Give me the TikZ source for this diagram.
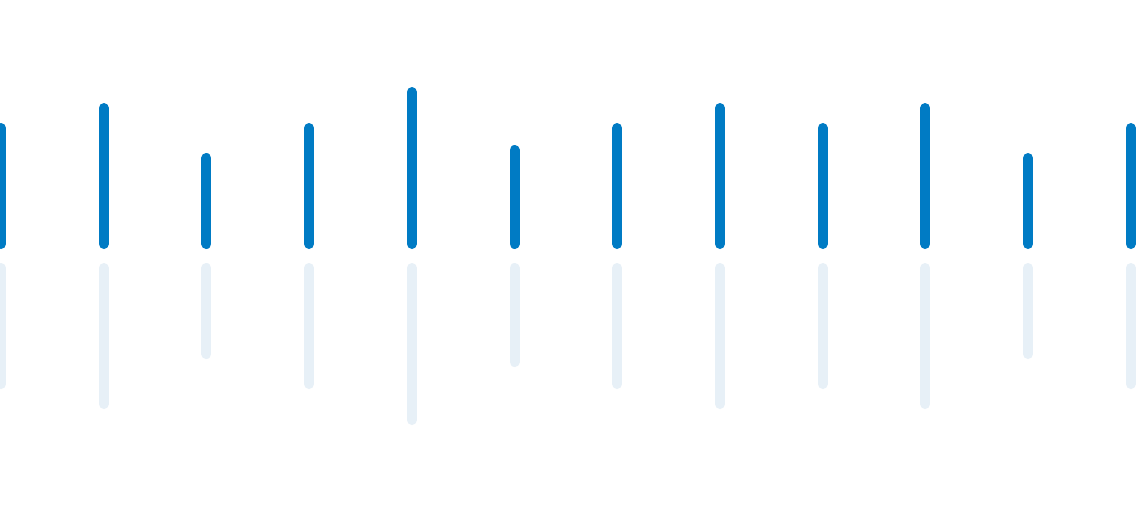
\documentclass[tikz,border=0pt]{standalone}
\definecolor{barblue}{HTML}{007BC4}
\definecolor{reflblue}{HTML}{E7F0F7}
\tikzset{bar/.style={line width=10pt,line cap=round,draw=barblue},
refl/.style={line width=10pt,line cap=round,draw=reflblue}}
\begin{document}
\begin{tikzpicture}[x=1pt,y=-1pt]
\useasboundingbox[fill=white] (0,0) rectangle (1136,512);
\foreach \i/\t in {0/123,1/103,2/153,3/123,4/87,5/145,6/123,7/103,8/123,9/103,10/153,11/123}{
  \pgfmathsetmacro{\xx}{1+\i*102.7}
  \pgfmathsetmacro{\rb}{263+249-\t}
  \draw[bar] (\xx,\t+5) -- (\xx,244);
  \draw[refl] (\xx,268) -- (\xx,\rb-5);
}
\end{tikzpicture}
\end{document}
